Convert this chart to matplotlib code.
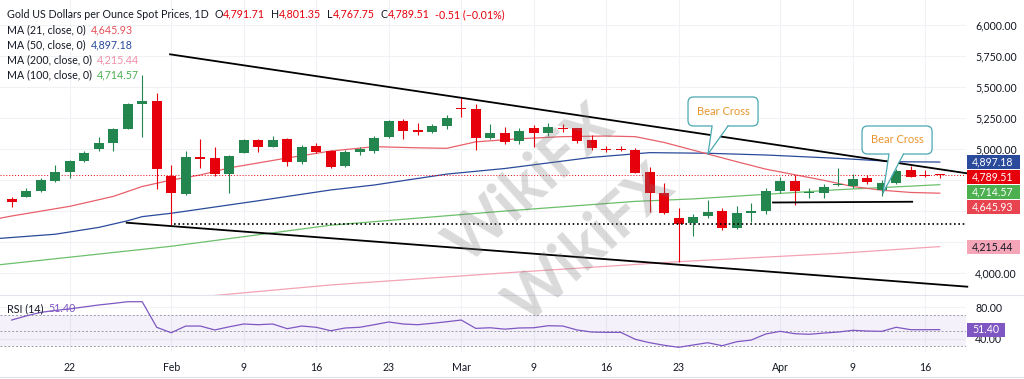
import matplotlib
matplotlib.use("Agg")
import matplotlib.pyplot as plt
from matplotlib import transforms
from matplotlib.patches import Rectangle, FancyBboxPatch, Polygon

plt.rcParams['font.family'] = ['Lato', 'DejaVu Sans']

# ---- data (bar index 0 = Jan 16) ----
opens = [4599, 4618, 4664, 4747, 4815, 4908, 5000, 5048, 5164, 5365,
         5392, 4785, 4640, 4935, 4932, 4798, 4973, 5075, 5021, 5083,
         4900, 5027, 4986, 4865, 4976, 4986, 5097, 5231, 5156, 5142,
         5188, 5333, 5325, 5089, 5129, 5067, 5169, 5129, 5174, 5169,
         5075, 5003, 5003, 4995, 4819, 4645, 4448, 4403, 4462, 4503,
         4368, 4489, 4503, 4664, 4747, 4645, 4645, 4710, 4707, 4766,
         4672, 4731, 4833, 4790, 4791.71]
highs = [4618, 4685, 4766, 4873, 4914, 4985, 5102, 5170, 5376, 5599,
         5452, 4873, 4989, 5083, 5016, 4954, 5081, 5080, 5107, 5090,
         5035, 5048, 4995, 4995, 5021, 5105, 5240, 5242, 5210, 5200,
         5280, 5411, 5365, 5200, 5180, 5170, 5196, 5210, 5200, 5175,
         5115, 5030, 5025, 5008, 4860, 4726, 4524, 4476, 4591, 4524,
         4540, 4570, 4685, 4780, 4793, 4685, 4720, 4847, 4800, 4790,
         4752, 4840, 4866, 4830, 4801.35]
lows = [4537, 4612, 4655, 4740, 4771, 4900, 4989, 4989, 5160, 5097,
        4677, 4390, 4635, 4847, 4785, 4650, 4970, 4981, 5015, 4865,
        4882, 4970, 4847, 4855, 4954, 4970, 5090, 5083, 5115, 5130,
        5160, 5258, 4995, 5085, 5040, 5045, 5016, 5110, 5140, 5048,
        4995, 4980, 4985, 4806, 4497, 4478, 4094, 4301, 4449, 4349,
        4360, 4416, 4480, 4645, 4550, 4605, 4610, 4700, 4690, 4720,
        4624, 4720, 4774, 4776, 4767.75]
closes = [4573, 4664, 4752, 4815, 4908, 4973, 5048, 5164, 5365, 5392,
          4841, 4645, 4935, 4924, 4798, 4946, 5075, 5021, 5075, 4900,
          5021, 4976, 4860, 4981, 5000, 5089, 5231, 5150, 5142, 5188,
          5255, 5322, 5089, 5129, 5061, 5148, 5129, 5182, 5164, 5069,
          5008, 4997, 4995, 4811, 4645, 4484, 4398, 4456, 4497, 4368,
          4489, 4503, 4664, 4747, 4666, 4653, 4698, 4720, 4758, 4739,
          4731, 4828, 4779, 4784, 4789.51]

ma21_idx = [-1, 0, 4, 7, 9, 11, 13, 15, 19, 22, 25, 28, 30, 32, 35, 38, 41, 43,
            45, 48, 50, 52, 54, 56, 58, 60, 62, 64]
ma21_val = [4440, 4462, 4540, 4620, 4700, 4752, 4793, 4850, 4930, 4986, 5021,
            5012, 5008, 5060, 5085, 5102, 5107, 5102, 5055, 4962, 4900, 4840,
            4795, 4750, 4700, 4670, 4652, 4645.93]
ma50_idx = [-1, 3, 6, 8, 9, 11, 17, 22, 25, 30, 34, 40, 44, 48, 52, 57, 61, 64]
ma50_val = [4280, 4315, 4370, 4424, 4457, 4484, 4585, 4672, 4712, 4800, 4845,
            4935, 4973, 4968, 4954, 4927, 4900, 4897.18]
ma100_idx = [-1, 11, 22, 34, 43, 47, 57, 64]
ma100_val = [4067, 4218, 4388, 4502, 4580, 4600, 4674, 4714.57]
ma200_idx = [12, 22, 34, 46, 57, 64]
ma200_val = [3800, 3906, 4003, 4094, 4161, 4215.44]

rsi = [63.7, 69, 73.5, 76, 78, 80.5, 83, 85, 87.2, 87.2,
       54.4, 47.4, 56, 56, 51, 55, 58.6, 57.7, 58.6, 52.6,
       56, 54.4, 50, 53.5, 54.4, 57.7, 61.2, 58.6, 57.7, 59.5,
       61.5, 63.7, 53, 53.8, 52, 53.5, 53.8, 56.4, 56, 50.9,
       48.3, 47.9, 47.9, 39, 34.6, 31.3, 28.7, 31.7, 34.6, 30.8,
       35.9, 38, 45.8, 49.2, 46.2, 45.4, 47, 48.3, 50.5, 49.6,
       49.2, 54.4, 51.3, 51.3, 51.4]

tick_idx = [4, 11, 16, 21, 26, 31, 36, 41, 46, 53, 58, 63]
tick_lab = ['22', 'Feb', '9', '16', '23', 'Mar', '9', '16', '23', 'Apr', '9', '16']
price_ticks = [4000, 4250, 4500, 4750, 5000, 5250, 5500, 5750, 6000]
hidden_ticks = [4250, 4500, 4750]  # covered by the price tags

# trendlines drawn on the chart (index, price)
upper_line = [(10.92, 5766), (65.9, 4806)]
lower_line = [(7.93, 4408), (65.9, 3892)]
support_line = [(52.5, 4571), (62.1, 4577)]
low_level = 4396
callouts = [  # box x0, x1, y_bottom, y_top, tail base x's, tip
    (46.64, 51.47, 5188, 5422, (48.3, 49.4), (48.02, 4962)),
    (58.64, 63.47, 4962, 5188, (60.5, 61.5), (60.1, 4650)),
]

GREEN = '#23864f'
RED = '#e5000b'
DARK = '#131722'
GRID = '#f0f2f6'
C21, C50, C100, C200 = '#e8616a', '#2a4a9b', '#6cc06b', '#f4a3b5'
PURPLE = '#7e57c2'

W, H = 1024, 379
fig = plt.figure(figsize=(10.24, 3.79), dpi=100)
ax = fig.add_axes([0, 1 - 295 / H, 966 / W, 295 / H])
rx = fig.add_axes([0, 1 - 352 / H, 966 / W, 57 / H])

x0, x1 = -0.807, 65.81
for a in (ax, rx):
    a.set_xlim(x0, x1)
    for s in a.spines.values():
        s.set_visible(False)
    a.set_xticks(tick_idx)
    a.grid(True, color=GRID, lw=0.8)
    a.set_axisbelow(True)
    a.yaxis.tick_right()
    a.tick_params(length=0, labelsize=7.6, labelcolor=DARK)

ax.set_ylim(3825, 6204)
ax.set_yticks(price_ticks)
ax.set_yticklabels(['' if v in hidden_ticks else '{:,.2f}'.format(v) for v in price_ticks])
ax.tick_params(axis='y', pad=6.5)
ax.set_xticklabels([])

# moving averages
ax.plot(ma200_idx, ma200_val, color=C200, lw=0.9, zorder=2)
ax.plot(ma100_idx, ma100_val, color=C100, lw=0.9, zorder=2)
ax.plot(ma50_idx, ma50_val, color=C50, lw=0.9, zorder=2)
ax.plot(ma21_idx, ma21_val, color=C21, lw=0.9, zorder=2)

# candles
idx = list(range(len(closes)))
cols = [GREEN if c >= o else RED for o, c in zip(opens, closes)]
ax.vlines(idx, lows, highs, colors=cols, lw=0.8, zorder=3)
bodies = [max(abs(c - o), 9) for o, c in zip(opens, closes)]
bottoms = [min(o, c) for o, c in zip(opens, closes)]
ax.bar(idx, bodies, bottom=bottoms, width=0.68, color=cols, zorder=4)

# last price line
ax.axhline(closes[-1], color=RED, lw=0.7, ls=(0, (1, 2)), zorder=2)

# drawings
ax.plot(*zip(*upper_line), color='black', lw=1.3, zorder=5, clip_on=False)
ax.plot(*zip(*lower_line), color='black', lw=1.3, zorder=5, clip_on=False)
ax.plot(*zip(*support_line), color='black', lw=1.3, zorder=5)
ax.hlines(low_level, 11.2, 65.8, color='black', lw=1.2, ls=(0, (1, 1.6)), zorder=5)

asp = 14.5 / 0.124
for bx0, bx1, by0, by1, (t0, t1), tip in callouts:
    box = FancyBboxPatch((bx0, by0), bx1 - bx0, by1 - by0,
                         boxstyle='round,pad=0,rounding_size=0.38',
                         mutation_aspect=asp, fc='white', ec='#4aa9b0', lw=0.9, zorder=7)
    ax.add_patch(box)
    ax.add_patch(Polygon([(t0, by0 + 10), (t1, by0 + 10), tip], closed=True,
                         fc='white', ec='none', zorder=7.5))
    ax.plot([t0, tip[0]], [by0, tip[1]], color='#4aa9b0', lw=0.9, zorder=7.6)
    ax.plot([t1, tip[0]], [by0, tip[1]], color='#4aa9b0', lw=0.9, zorder=7.6)
    ax.text((bx0 + bx1) / 2, (by0 + by1) / 2, 'Bear Cross', color='#e8952e',
            fontsize=8, ha='center', va='center', zorder=8)

# price tags on the right axis
btr = transforms.blended_transform_factory(ax.transAxes, ax.transData)
tag_h = 14 / 0.124
tags = [(4897.18, C50, 'white'), (4789.51, RED, 'white'),
        (4714.57, '#4caf50', 'white'), (4645.93, '#e8444f', 'white'),
        (4215.44, '#f4a6b8', DARK)]
prev = None
for val, bg, fg in tags:
    y = val if prev is None else min(val, prev - 15 / 0.124)
    prev = y
    ax.add_patch(Rectangle((1.001, y - tag_h / 2), 53 / 966, tag_h, transform=btr,
                           fc=bg, ec='none', clip_on=False, zorder=9))
    ax.text(1.0 + 6 / 966, y, '{:,.2f}'.format(val), transform=btr, color=fg,
            fontsize=7.6, va='center', ha='left', zorder=10, clip_on=False)

# RSI pane
rx.set_ylim(22.7, 95.8)
rx.axhspan(30, 70, color=PURPLE, alpha=0.08, lw=0)
for lv in (70, 50, 30):
    rx.axhline(lv, color='#9a9ca5', lw=0.7, ls=(0, (2, 2)))
rx.plot(idx, rsi, color=PURPLE, lw=0.9)
rx.set_yticks([40, 80])
rx.set_yticklabels(['40.00', '80.00'])
rx.tick_params(axis='y', pad=6.5)
rx.set_xticklabels(tick_lab)
rx.tick_params(axis='x', pad=7)
rtr = transforms.blended_transform_factory(rx.transAxes, rx.transData)
rx.add_patch(Rectangle((1.001, rsi[-1] - 9), 38 / 966, 18, transform=rtr,
                       fc=PURPLE, ec='none', clip_on=False, zorder=9))
rx.text(1.0 + 6 / 966, rsi[-1], '{:.2f}'.format(rsi[-1]), transform=rtr, color='white',
        fontsize=7.6, va='center', ha='left', zorder=10, clip_on=False)

# pane separators
fig.add_artist(plt.Line2D([0, 1], [1 - 295 / H, 1 - 295 / H], color='#e0e3eb', lw=0.8))
fig.add_artist(plt.Line2D([0, 1], [1 - 377 / H, 1 - 377 / H], color='#e0e3eb', lw=0.8))

# watermark
fig.text(530 / W, 1 - 185 / H, 'WikiFX', fontsize=44, fontweight='bold', color='#7a7a7a',
         alpha=0.28, rotation=42, ha='center', va='center')
fig.text(590 / W, 1 - 245 / H, 'WikiFX', fontsize=44, fontweight='bold', color='#7a7a7a',
         alpha=0.28, rotation=42, ha='center', va='center')

# legend text
renderer = fig.canvas.get_renderer()


def put_parts(x, y, parts, size=7.7):
    for s, c, gap in parts:
        t = fig.text(x / W, 1 - y / H, s, color=c, fontsize=size, ha='left', va='center')
        x += t.get_window_extent(renderer).width + gap


put_parts(7, 14.3, [('Gold US Dollars per Ounce Spot Prices, 1D', DARK, 6),
                    ('O', DARK, 0), ('4,791.71', RED, 6),
                    ('H', DARK, 0), ('4,801.35', RED, 6),
                    ('L', DARK, 0), ('4,767.75', RED, 6),
                    ('C', DARK, 0), ('4,789.51', RED, 5),
                    ('-0.51 (\u22120.01%)', RED, 0)])
put_parts(7, 29.5, [('MA (21, close, 0)', DARK, 5), ('4,645.93', '#e5505b', 0)])
put_parts(7, 44.7, [('MA (50, close, 0)', DARK, 5), ('4,897.18', C50, 0)])
put_parts(7, 60, [('MA (200, close, 0)', DARK, 5), ('4,215.44', '#f08fa8', 0)])
put_parts(7, 75, [('MA (100, close, 0)', DARK, 5), ('4,714.57', '#4caf50', 0)])
put_parts(7, 309, [('RSI (14)', DARK, 5), ('51.40', PURPLE, 0)])

fig.savefig('out.png', dpi=100)
